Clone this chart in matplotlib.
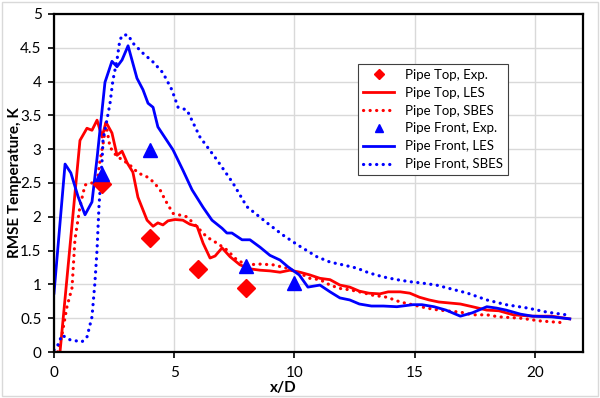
import matplotlib
matplotlib.use("Agg")
import matplotlib.pyplot as plt
from matplotlib.patches import Rectangle

# Experimental points
exp_x_top = [2, 4, 6, 8]
exp_y_top = [2.48, 1.68, 1.23, 0.94]
exp_x_front = [2, 4, 8, 10]
exp_y_front = [2.63, 2.99, 1.27, 1.02]

# Pipe Top, LES
top_les_x = [0.25, 1.08, 1.37, 1.58, 1.79, 2.0, 2.16, 2.41, 2.62, 2.83, 3.04, 3.28, 3.49,
             3.87, 4.12, 4.32, 4.53, 4.74, 5.03, 5.36, 5.65, 5.95, 6.2, 6.49, 6.7, 6.99,
             7.32, 7.73, 8.15, 8.57, 8.98, 9.4, 9.81, 10.23, 10.64, 11.06, 11.48, 11.89,
             12.3, 12.7, 13.1, 13.55, 13.9, 14.4, 14.8, 15.2, 15.6, 16.0, 16.9, 17.4,
             18.0, 18.5, 19.1, 19.9, 20.7, 21.45]
top_les_y = [0.0, 3.13, 3.31, 3.28, 3.43, 3.18, 3.40, 3.24, 2.91, 2.97, 2.80, 2.66, 2.29,
             1.95, 1.86, 1.91, 1.88, 1.94, 1.96, 1.95, 1.89, 1.86, 1.61, 1.39, 1.42, 1.54,
             1.41, 1.29, 1.23, 1.21, 1.20, 1.18, 1.21, 1.18, 1.14, 1.09, 1.07, 0.99,
             0.96, 0.90, 0.87, 0.86, 0.89, 0.89, 0.87, 0.81, 0.77, 0.74, 0.71, 0.67,
             0.62, 0.61, 0.55, 0.53, 0.53, 0.49]

# Pipe Top, SBES
top_sbes_x = [0.15, 0.33, 0.54, 0.75, 0.87, 1.08, 1.29, 1.5, 1.79, 1.9, 2.05, 2.16, 2.33,
              2.62, 2.87, 3.24, 3.49, 3.87, 4.12, 4.41, 4.62, 4.95, 5.53, 5.95, 6.36,
              6.78, 7.19, 7.61, 8.02, 8.57, 9.1, 9.69, 10.2, 10.64, 11.06, 11.48, 11.89,
              12.3, 12.7, 13.26, 13.85, 14.4, 14.9, 15.5, 16.0, 16.9, 17.4, 18.0, 18.5,
              19.4, 20.2, 21.3]
top_sbes_y = [0.0, 0.25, 0.67, 0.95, 1.66, 2.15, 2.47, 2.5, 2.5, 2.8, 3.1, 3.38, 3.03,
              2.89, 2.84, 2.74, 2.65, 2.59, 2.52, 2.40, 2.25, 2.05, 2.0, 1.85, 1.70,
              1.61, 1.51, 1.36, 1.29, 1.30, 1.29, 1.24, 1.17, 1.09, 1.07, 0.99, 0.94,
              0.92, 0.89, 0.84, 0.81, 0.74, 0.70, 0.65, 0.62, 0.59, 0.55, 0.55, 0.52,
              0.50, 0.46, 0.43]

# Pipe Front, LES
front_les_x = [0.0, 0.46, 0.7, 1.0, 1.29, 1.58, 1.8, 2.12, 2.41, 2.62, 2.83, 3.08, 3.45,
               3.7, 3.91, 4.12, 4.32, 4.95, 5.36, 5.74, 6.2, 6.57, 6.99, 7.19, 7.4, 7.82,
               8.15, 8.57, 8.98, 9.4, 9.73, 10.2, 10.56, 11.06, 11.48, 11.89, 12.3, 12.7,
               13.2, 13.7, 14.26, 14.93, 15.3, 15.8, 16.3, 16.9, 17.4, 18.0, 18.4, 18.8,
               19.4, 19.9, 20.7, 21.45]
front_les_y = [0.87, 2.78, 2.65, 2.3, 2.03, 2.22, 2.9, 3.99, 4.30, 4.22, 4.32, 4.53, 4.05,
               3.88, 3.68, 3.62, 3.33, 2.99, 2.69, 2.40, 2.14, 1.95, 1.83, 1.76, 1.76, 1.66,
               1.66, 1.55, 1.43, 1.36, 1.26, 1.14, 0.96, 0.99, 0.89, 0.80, 0.77, 0.71,
               0.68, 0.68, 0.67, 0.70, 0.70, 0.67, 0.62, 0.53, 0.58, 0.67, 0.65, 0.62,
               0.56, 0.53, 0.52, 0.49]

# Pipe Front, SBES
front_sbes_x = [0.0, 0.12, 0.33, 0.67, 1.16, 1.37, 1.58, 1.7, 1.79, 1.87, 2.0, 2.04, 2.2,
                2.33, 2.45, 2.62, 2.74, 2.87, 3.08, 3.28, 3.7, 4.12, 4.53, 4.9, 5.16,
                5.53, 6.07, 6.78, 7.44, 8.02, 8.86, 9.52, 10.15, 10.93, 11.48, 12.0,
                12.6, 13.1, 13.7, 14.26, 14.8, 15.3, 15.9, 17.2, 18.0, 18.8, 19.7, 20.5,
                21.3]
front_sbes_y = [0.03, 0.07, 0.25, 0.18, 0.15, 0.22, 0.52, 1.02, 1.51, 2.15, 2.84, 3.14, 3.43,
                3.68, 4.02, 4.32, 4.62, 4.69, 4.69, 4.57, 4.42, 4.29, 4.13, 3.88, 3.62,
                3.58, 3.18, 2.84, 2.50, 2.15, 1.91, 1.73, 1.58, 1.41, 1.33, 1.29,
                1.24, 1.17, 1.11, 1.07, 1.04, 1.02, 0.99, 0.87, 0.77, 0.70, 0.65, 0.59,
                0.55]

plt.rcParams['font.family'] = ['Lato', 'DejaVu Sans']

fig = plt.figure(figsize=(6.0, 3.98), dpi=100)
ax = fig.add_axes([54/600, 1 - 352/398, 529/600, 338/398])

grid_c = '#d9d9d9'
ax.set_xlim(0, 22)
ax.set_ylim(0, 5)
ax.set_xticks([0, 5, 10, 15, 20])
ax.set_yticks([0, 0.5, 1, 1.5, 2, 2.5, 3, 3.5, 4, 4.5, 5])
ax.set_yticklabels(['0', '0.5', '1', '1.5', '2', '2.5', '3', '3.5', '4', '4.5', '5'])
ax.grid(True, color=grid_c, linewidth=1.0)
ax.set_axisbelow(True)
for s in ax.spines.values():
    s.set_linewidth(1.6)
    s.set_color('black')
ax.tick_params(axis='both', direction='out', length=4, width=1.2, labelsize=11,
               colors='black')
ax.tick_params(axis='x', pad=6)
ax.tick_params(axis='y', pad=5)

dot = (0, (0.05, 2.0))
ax.plot(exp_x_top, exp_y_top, linestyle='none', marker='D', color='#ff0000',
        markersize=9, label='Pipe Top, Exp.', zorder=5)
ax.plot(top_les_x, top_les_y, color='#ff0000', linewidth=2.0, label='Pipe Top, LES')
ax.plot(top_sbes_x, top_sbes_y, color='#ff0000', linewidth=2.3, linestyle=dot,
        dash_capstyle='round', label='Pipe Top, SBES')
ax.plot(exp_x_front, exp_y_front, linestyle='none', marker='^', color='#0000ff',
        markersize=10, label='Pipe Front, Exp.', zorder=5)
ax.plot(front_les_x, front_les_y, color='#0000ff', linewidth=2.0, label='Pipe Front, LES')
ax.plot(front_sbes_x, front_sbes_y, color='#0000ff', linewidth=2.3, linestyle=dot,
        dash_capstyle='round', label='Pipe Front, SBES')

ax.set_xlabel('x/D', fontsize=11, fontweight='bold')
ax.set_ylabel('RMSE Temperature, K', fontsize=11, fontweight='bold')
ax.xaxis.set_label_coords((283 - 54) / 529, -(381 - 352) / 338)
ax.yaxis.set_label_coords(-(54 - 22) / 529, 0.5)

leg = ax.legend(loc='upper left', bbox_to_anchor=(0.575, 0.852), fontsize=9.5,
                frameon=True, fancybox=False, edgecolor='#404040', framealpha=1,
                handlelength=2.4, handletextpad=0.8, borderpad=0.35, labelspacing=0.45,
                borderaxespad=0, markerscale=0.6)
leg.get_frame().set_linewidth(0.8)

fig.patches.append(Rectangle((0.003, 0.004), 0.994, 0.992, transform=fig.transFigure,
                             fill=False, edgecolor='#d9d9d9', linewidth=1.0))

fig.savefig('out.png', dpi=100)
